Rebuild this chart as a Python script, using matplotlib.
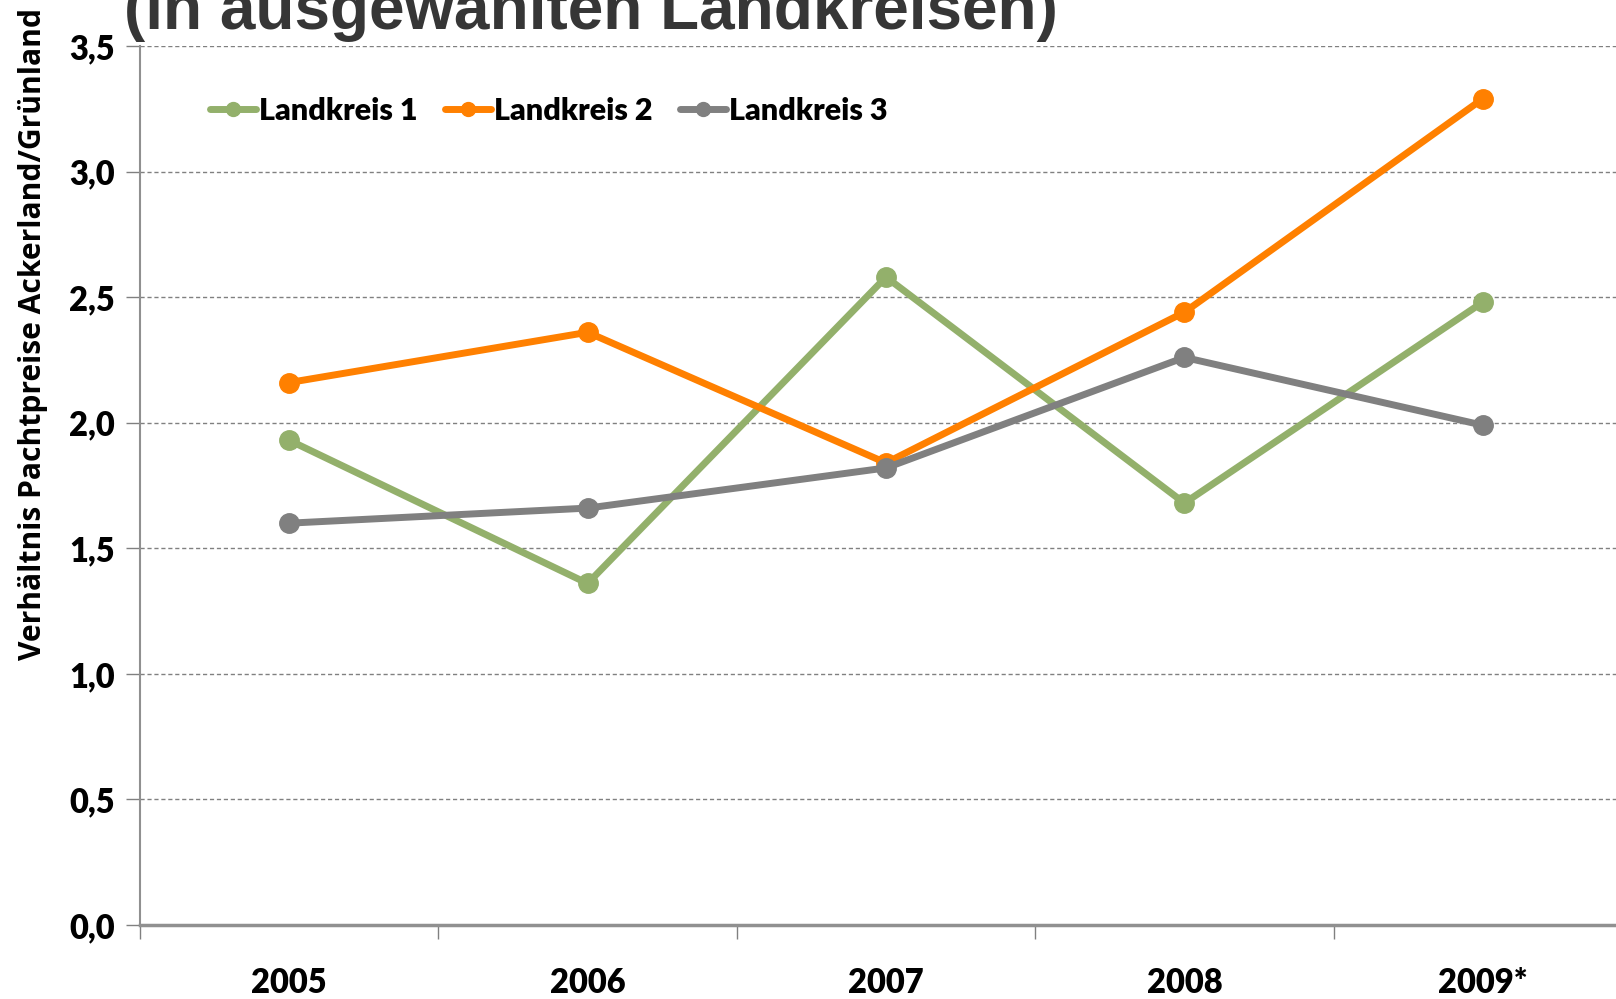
import numpy as np
import matplotlib.pyplot as plt
from matplotlib.ticker import FixedLocator, FuncFormatter

years = ['2005', '2006', '2007', '2008', '2009*']
kreis1 = [1.93, 1.36, 2.58, 1.68, 2.48]
kreis2 = [2.16, 2.36, 1.84, 2.44, 3.29]
kreis3 = [1.60, 1.66, 1.82, 2.26, 1.99]
names = ['Landkreis 1', 'Landkreis 2', 'Landkreis 3']
colors = ['#93B06B', '#FF8000', '#808080']

plt.rcParams['font.family'] = ['Lato', 'DejaVu Sans']

W, H = 1616, 999
fig = plt.figure(figsize=(W / 100, H / 100), dpi=100)
# axes run past the right edge like in the original screenshot
ax = fig.add_axes([140 / W, (H - 925) / H, (1632 - 140) / W, (925 - 46) / H])

x = np.arange(len(years))
for vals, name, col in zip([kreis1, kreis2, kreis3], names, colors):
    ax.plot(x, vals, color=col, lw=5, marker='o', ms=14, label=name,
            solid_capstyle='round')

ax.set_xlim(-0.5, len(years) - 0.5)
ax.set_ylim(0, 3.5)
ax.set_yticks(np.arange(0, 3.51, 0.5))
ax.yaxis.set_major_formatter(FuncFormatter(lambda v, p: f'{v:.1f}'.replace('.', ',')))
ax.grid(axis='y', color='#808080', ls=(0, (3, 2)), lw=1)
ax.set_axisbelow(True)

ax.set_xticks(x)
ax.set_xticklabels(years)
ax.xaxis.set_minor_locator(FixedLocator(np.arange(-0.5, len(years), 1)))
ax.tick_params(axis='x', which='major', length=0, pad=30, labelsize=23.5)
ax.tick_params(axis='x', which='minor', length=10, width=1, color='#808080', direction='out')
ax.tick_params(axis='y', length=10, width=1, color='#808080', pad=8, labelsize=23.5)
for lab in ax.get_xticklabels() + ax.get_yticklabels():
    lab.set_fontweight('heavy')

for s in ['top', 'right']:
    ax.spines[s].set_visible(False)
ax.spines['left'].set_color('#909090')
ax.spines['left'].set_linewidth(1.5)
ax.spines['bottom'].set_color('#909090')
ax.spines['bottom'].set_linewidth(2.5)

fig.text(33 / W, (H - 334) / H, 'Verhältnis Pachtpreise Ackerland/Grünland', rotation=90,
         ha='center', va='center', fontsize=21.6, fontweight='bold',
         family=['Open Sans', 'DejaVu Sans'])

fig.text(124 / W, (H - 29) / H, '(in ausgewählten Landkreisen)', ha='left', va='baseline',
         fontsize=46, fontweight='bold', color='#363636',
         family=['Liberation Sans', 'DejaVu Sans'])

leg = ax.legend(loc='center left', bbox_to_anchor=(210 / W, (H - 111) / H),
                bbox_transform=fig.transFigure, ncol=3, frameon=False,
                prop={'weight': 'heavy', 'size': 22}, handlelength=1.5,
                handletextpad=0.1, columnspacing=0.9, borderaxespad=0, borderpad=0)
for h in leg.legend_handles:
    h.set_markersize(10)

fig.savefig('out.png', dpi=100)
